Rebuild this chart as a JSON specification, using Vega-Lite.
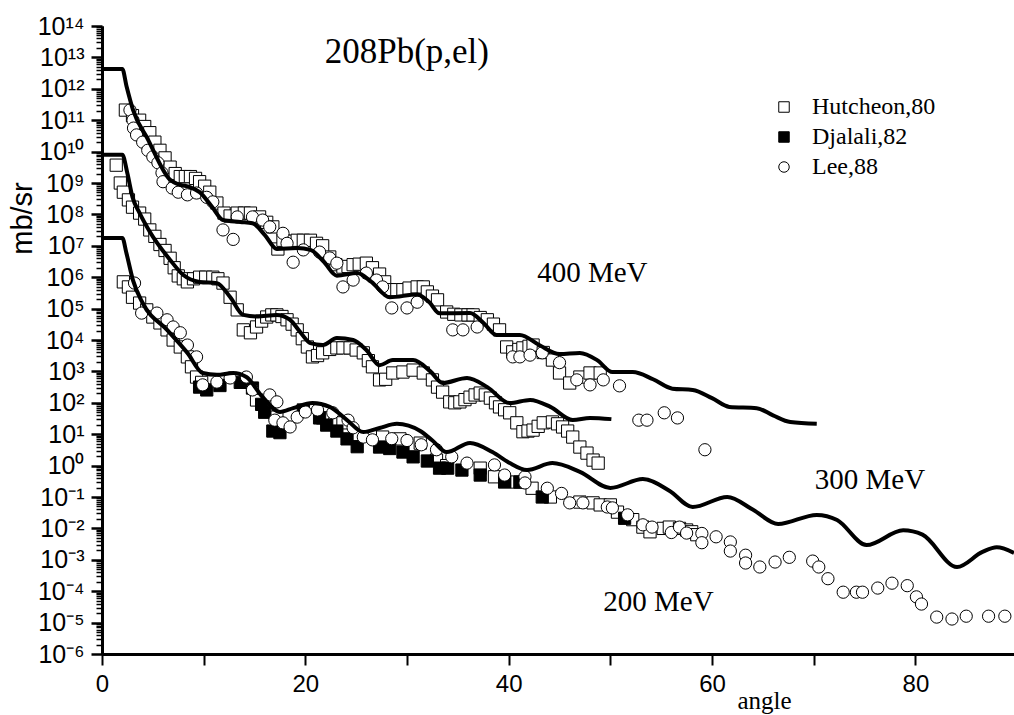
{
  "$schema": "https://vega.github.io/schema/vega-lite/v6.json",
  "width": 912,
  "height": 628,
  "autosize": {"type": "none"},
  "padding": {"left": 102, "top": 26, "right": 0, "bottom": 61},
  "background": "white",
  "config": {"view": {"stroke": null}},
  "resolve": {"axis": {"y": "independent"}},
  "datasets": {
    "curves": [
      {"c": "400", "a": 0, "v": 4.27e12}, {"c": "400", "a": 2.0, "v": 4.27e12}, {"c": "400", "a": 2.4, "v": 1.26e12}, {"c": "400", "a": 3.05, "v": 2.14e11}, {"c": "400", "a": 4.5, "v": 2.51e10}, {"c": "400", "a": 6.7, "v": 1.26e9}, {"c": "400", "a": 7.6, "v": 8.91e8}, {"c": "400", "a": 8.65, "v": 7.41e8}, {"c": "400", "a": 9.6, "v": 5.13e8}, {"c": "400", "a": 10.8, "v": 1.78e8}, {"c": "400", "a": 11.9, "v": 6.61e7}, {"c": "400", "a": 13.6, "v": 5.75e7}, {"c": "400", "a": 14.8, "v": 5.25e7}, {"c": "400", "a": 16.0, "v": 2.24e7}, {"c": "400", "a": 17.2, "v": 7.94e6}, {"c": "400", "a": 19.2, "v": 8.51e6}, {"c": "400", "a": 20.5, "v": 7.41e6}, {"c": "400", "a": 21.8, "v": 3.16e6}, {"c": "400", "a": 23.1, "v": 1.12e6}, {"c": "400", "a": 25.1, "v": 1.35e6}, {"c": "400", "a": 26.5, "v": 7.08e5}, {"c": "400", "a": 28.3, "v": 2.29e5}, {"c": "400", "a": 31.0, "v": 2.82e5}, {"c": "400", "a": 32.2, "v": 1.58e5}, {"c": "400", "a": 33.2, "v": 7.08e4}, {"c": "400", "a": 36.2, "v": 7.24e4}, {"c": "400", "a": 37.5, "v": 3.55e4}, {"c": "400", "a": 38.8, "v": 1.45e4}, {"c": "400", "a": 41.1, "v": 1.45e4}, {"c": "400", "a": 43.0, "v": 6.92e3}, {"c": "400", "a": 45.0, "v": 3.55e3}, {"c": "400", "a": 47.0, "v": 3.89e3}, {"c": "400", "a": 48.7, "v": 2.29e3}, {"c": "400", "a": 50.2, "v": 955}, {"c": "400", "a": 52.2, "v": 955}, {"c": "400", "a": 54.2, "v": 562}, {"c": "400", "a": 56.1, "v": 282}, {"c": "400", "a": 58.1, "v": 257}, {"c": "400", "a": 60.0, "v": 141}, {"c": "400", "a": 61.7, "v": 74.1}, {"c": "400", "a": 64.4, "v": 67.6}, {"c": "400", "a": 66.0, "v": 39.8}, {"c": "400", "a": 67.7, "v": 24.5}, {"c": "400", "a": 70.3, "v": 21.4},
      {"c": "300", "a": 0, "v": 7.94e9}, {"c": "300", "a": 2.0, "v": 7.94e9}, {"c": "300", "a": 2.5, "v": 2.0e9}, {"c": "300", "a": 3.0, "v": 3.55e8}, {"c": "300", "a": 3.7, "v": 1.1e8}, {"c": "300", "a": 4.7, "v": 2.82e7}, {"c": "300", "a": 6.7, "v": 3.55e6}, {"c": "300", "a": 8.0, "v": 1.17e6}, {"c": "300", "a": 9.6, "v": 7.08e5}, {"c": "300", "a": 11.3, "v": 6.46e5}, {"c": "300", "a": 12.6, "v": 2.34e5}, {"c": "300", "a": 13.9, "v": 6.31e4}, {"c": "300", "a": 15.2, "v": 5.62e4}, {"c": "300", "a": 17.2, "v": 6.31e4}, {"c": "300", "a": 18.5, "v": 4.37e4}, {"c": "300", "a": 19.5, "v": 1.78e4}, {"c": "300", "a": 20.5, "v": 7.94e3}, {"c": "300", "a": 21.7, "v": 6.92e3}, {"c": "300", "a": 23.1, "v": 1.15e4}, {"c": "300", "a": 24.7, "v": 1.0e4}, {"c": "300", "a": 26.0, "v": 4.79e3}, {"c": "300", "a": 27.3, "v": 1.58e3}, {"c": "300", "a": 28.6, "v": 2.29e3}, {"c": "300", "a": 30.6, "v": 2.29e3}, {"c": "300", "a": 32.3, "v": 1.0e3}, {"c": "300", "a": 33.5, "v": 427}, {"c": "300", "a": 35.9, "v": 617}, {"c": "300", "a": 37.9, "v": 316}, {"c": "300", "a": 40.1, "v": 97.7}, {"c": "300", "a": 42.1, "v": 123}, {"c": "300", "a": 44.1, "v": 74.1}, {"c": "300", "a": 46.3, "v": 28.2}, {"c": "300", "a": 48.0, "v": 33.1}, {"c": "300", "a": 50.1, "v": 30.2},
      {"c": "200", "a": 0, "v": 1.78e7}, {"c": "200", "a": 2.0, "v": 1.78e7}, {"c": "200", "a": 2.4, "v": 5.89e6}, {"c": "200", "a": 3.05, "v": 7.94e5}, {"c": "200", "a": 4.0, "v": 1.51e5}, {"c": "200", "a": 6.4, "v": 2.09e4}, {"c": "200", "a": 8.4, "v": 3.89e3}, {"c": "200", "a": 9.9, "v": 891}, {"c": "200", "a": 11.3, "v": 776}, {"c": "200", "a": 12.9, "v": 891}, {"c": "200", "a": 14.2, "v": 661}, {"c": "200", "a": 15.8, "v": 151}, {"c": "200", "a": 17.5, "v": 51.3}, {"c": "200", "a": 18.8, "v": 67.6}, {"c": "200", "a": 20.7, "v": 97.7}, {"c": "200", "a": 22.4, "v": 74.1}, {"c": "200", "a": 24.1, "v": 28.2}, {"c": "200", "a": 25.7, "v": 11.7}, {"c": "200", "a": 27.3, "v": 15.8}, {"c": "200", "a": 29.0, "v": 21.4}, {"c": "200", "a": 31.3, "v": 12.6}, {"c": "200", "a": 32.5, "v": 6.31}, {"c": "200", "a": 33.9, "v": 2.69}, {"c": "200", "a": 36.2, "v": 5.25}, {"c": "200", "a": 38.4, "v": 2.69}, {"c": "200", "a": 40.0, "v": 1.26}, {"c": "200", "a": 41.8, "v": 0.724}, {"c": "200", "a": 44.3, "v": 1.2}, {"c": "200", "a": 47.0, "v": 0.631}, {"c": "200", "a": 50.0, "v": 0.195}, {"c": "200", "a": 53.2, "v": 0.372}, {"c": "200", "a": 55.8, "v": 0.158}, {"c": "200", "a": 58.1, "v": 0.0479}, {"c": "200", "a": 61.5, "v": 0.1}, {"c": "200", "a": 64.0, "v": 0.0398}, {"c": "200", "a": 66.5, "v": 0.0138}, {"c": "200", "a": 70.3, "v": 0.0269}, {"c": "200", "a": 72.3, "v": 0.0186}, {"c": "200", "a": 75.2, "v": 0.00295}, {"c": "200", "a": 78.8, "v": 0.00871}, {"c": "200", "a": 80.7, "v": 0.00631}, {"c": "200", "a": 84.1, "v": 0.000589}, {"c": "200", "a": 86.6, "v": 0.00178}, {"c": "200", "a": 88.0, "v": 0.00251}, {"c": "200", "a": 89.7, "v": 0.00166}
    ],
    "points": [
      {"s": "Hutcheon,80", "a": 2.3, "v": 2.1e11}, {"s": "Hutcheon,80", "a": 3.0, "v": 1.4e11}, {"s": "Hutcheon,80", "a": 3.7, "v": 1e11}, {"s": "Hutcheon,80", "a": 4.2, "v": 6.3e10}, {"s": "Hutcheon,80", "a": 4.7, "v": 4e10}, {"s": "Hutcheon,80", "a": 5.2, "v": 2e10}, {"s": "Hutcheon,80", "a": 5.7, "v": 1.1e10}, {"s": "Hutcheon,80", "a": 6.2, "v": 6.3e9}, {"s": "Hutcheon,80", "a": 6.7, "v": 3.2e9}, {"s": "Hutcheon,80", "a": 7.2, "v": 2e9}, {"s": "Hutcheon,80", "a": 7.7, "v": 1.6e9}, {"s": "Hutcheon,80", "a": 8.2, "v": 1.6e9}, {"s": "Hutcheon,80", "a": 8.7, "v": 1.6e9}, {"s": "Hutcheon,80", "a": 9.2, "v": 1.4e9}, {"s": "Hutcheon,80", "a": 9.6, "v": 1.1e9}, {"s": "Hutcheon,80", "a": 10.1, "v": 7.9e8}, {"s": "Hutcheon,80", "a": 10.6, "v": 5.1e8}, {"s": "Hutcheon,80", "a": 11.3, "v": 2.3e8}, {"s": "Hutcheon,80", "a": 12.0, "v": 1.1e8}, {"s": "Hutcheon,80", "a": 12.6, "v": 8.9e7}, {"s": "Hutcheon,80", "a": 13.3, "v": 1.1e8}, {"s": "Hutcheon,80", "a": 14.0, "v": 1.1e8}, {"s": "Hutcheon,80", "a": 14.6, "v": 1.1e8}, {"s": "Hutcheon,80", "a": 15.5, "v": 8.3e7}, {"s": "Hutcheon,80", "a": 16.2, "v": 5.6e7}, {"s": "Hutcheon,80", "a": 16.8, "v": 4e7}, {"s": "Hutcheon,80", "a": 17.3, "v": 7.9e6}, {"s": "Hutcheon,80", "a": 17.8, "v": 1.5e7}, {"s": "Hutcheon,80", "a": 18.5, "v": 1.4e7}, {"s": "Hutcheon,80", "a": 19.2, "v": 1.5e7}, {"s": "Hutcheon,80", "a": 19.8, "v": 1.5e7}, {"s": "Hutcheon,80", "a": 20.5, "v": 1.5e7}, {"s": "Hutcheon,80", "a": 21.1, "v": 1.2e7}, {"s": "Hutcheon,80", "a": 21.7, "v": 1e7}, {"s": "Hutcheon,80", "a": 22.4, "v": 4.4e6}, {"s": "Hutcheon,80", "a": 23.0, "v": 2.5e6}, {"s": "Hutcheon,80", "a": 23.7, "v": 2.1e6}, {"s": "Hutcheon,80", "a": 24.2, "v": 2.2e6}, {"s": "Hutcheon,80", "a": 24.7, "v": 2.5e6}, {"s": "Hutcheon,80", "a": 25.3, "v": 2.6e6}, {"s": "Hutcheon,80", "a": 26.0, "v": 2.8e6}, {"s": "Hutcheon,80", "a": 26.6, "v": 2e6}, {"s": "Hutcheon,80", "a": 27.3, "v": 1.26e6}, {"s": "Hutcheon,80", "a": 27.8, "v": 7.1e5}, {"s": "Hutcheon,80", "a": 28.3, "v": 4e5}, {"s": "Hutcheon,80", "a": 29.0, "v": 4e5}, {"s": "Hutcheon,80", "a": 29.6, "v": 4e5}, {"s": "Hutcheon,80", "a": 30.2, "v": 4.5e5}, {"s": "Hutcheon,80", "a": 31.0, "v": 4.9e5}, {"s": "Hutcheon,80", "a": 31.6, "v": 4.9e5}, {"s": "Hutcheon,80", "a": 32.0, "v": 3.4e5}, {"s": "Hutcheon,80", "a": 32.5, "v": 2.5e5}, {"s": "Hutcheon,80", "a": 33.0, "v": 1.9e5}, {"s": "Hutcheon,80", "a": 33.9, "v": 7.8e4}, {"s": "Hutcheon,80", "a": 34.6, "v": 6.6e4}, {"s": "Hutcheon,80", "a": 35.3, "v": 6.3e4}, {"s": "Hutcheon,80", "a": 36.0, "v": 6.3e4}, {"s": "Hutcheon,80", "a": 36.5, "v": 6.3e4}, {"s": "Hutcheon,80", "a": 37.2, "v": 5.2e4}, {"s": "Hutcheon,80", "a": 37.9, "v": 4.4e4}, {"s": "Hutcheon,80", "a": 38.5, "v": 3.2e4}, {"s": "Hutcheon,80", "a": 39.1, "v": 2.1e4}, {"s": "Hutcheon,80", "a": 39.8, "v": 6e3}, {"s": "Hutcheon,80", "a": 40.4, "v": 4.2e3}, {"s": "Hutcheon,80", "a": 41.0, "v": 5e3}, {"s": "Hutcheon,80", "a": 41.4, "v": 5.6e3}, {"s": "Hutcheon,80", "a": 42.0, "v": 6.3e3}, {"s": "Hutcheon,80", "a": 42.4, "v": 6.9e3}, {"s": "Hutcheon,80", "a": 43.4, "v": 4e3}, {"s": "Hutcheon,80", "a": 44.3, "v": 2.3e3}, {"s": "Hutcheon,80", "a": 45.0, "v": 891}, {"s": "Hutcheon,80", "a": 46.0, "v": 427}, {"s": "Hutcheon,80", "a": 47.0, "v": 661}, {"s": "Hutcheon,80", "a": 48.0, "v": 891}, {"s": "Hutcheon,80", "a": 49.0, "v": 891},
      {"s": "Hutcheon,80", "a": 1.4, "v": 3.7e9}, {"s": "Hutcheon,80", "a": 1.8, "v": 1e9}, {"s": "Hutcheon,80", "a": 2.1, "v": 5.1e8}, {"s": "Hutcheon,80", "a": 2.6, "v": 2.9e8}, {"s": "Hutcheon,80", "a": 3.0, "v": 1.7e8}, {"s": "Hutcheon,80", "a": 3.7, "v": 1.1e8}, {"s": "Hutcheon,80", "a": 4.2, "v": 7.1e7}, {"s": "Hutcheon,80", "a": 4.7, "v": 3.2e7}, {"s": "Hutcheon,80", "a": 5.2, "v": 2e7}, {"s": "Hutcheon,80", "a": 5.7, "v": 1.1e7}, {"s": "Hutcheon,80", "a": 6.2, "v": 7.1e6}, {"s": "Hutcheon,80", "a": 6.7, "v": 4e6}, {"s": "Hutcheon,80", "a": 7.1, "v": 2e6}, {"s": "Hutcheon,80", "a": 7.5, "v": 1.1e6}, {"s": "Hutcheon,80", "a": 8.0, "v": 8.9e5}, {"s": "Hutcheon,80", "a": 8.4, "v": 7.1e5}, {"s": "Hutcheon,80", "a": 9.0, "v": 8.9e5}, {"s": "Hutcheon,80", "a": 9.6, "v": 1e6}, {"s": "Hutcheon,80", "a": 10.2, "v": 1e6}, {"s": "Hutcheon,80", "a": 10.9, "v": 1e6}, {"s": "Hutcheon,80", "a": 11.4, "v": 8.9e5}, {"s": "Hutcheon,80", "a": 11.9, "v": 6.5e5}, {"s": "Hutcheon,80", "a": 12.6, "v": 2.3e5}, {"s": "Hutcheon,80", "a": 13.3, "v": 9.1e4}, {"s": "Hutcheon,80", "a": 13.9, "v": 2.1e4}, {"s": "Hutcheon,80", "a": 14.6, "v": 1.7e4}, {"s": "Hutcheon,80", "a": 15.2, "v": 2.6e4}, {"s": "Hutcheon,80", "a": 15.7, "v": 4e4}, {"s": "Hutcheon,80", "a": 16.2, "v": 5.4e4}, {"s": "Hutcheon,80", "a": 16.7, "v": 6.3e4}, {"s": "Hutcheon,80", "a": 17.2, "v": 6.3e4}, {"s": "Hutcheon,80", "a": 17.7, "v": 5.6e4}, {"s": "Hutcheon,80", "a": 18.2, "v": 4.4e4}, {"s": "Hutcheon,80", "a": 18.7, "v": 3.2e4}, {"s": "Hutcheon,80", "a": 19.2, "v": 2.1e4}, {"s": "Hutcheon,80", "a": 19.7, "v": 1.1e4}, {"s": "Hutcheon,80", "a": 20.2, "v": 6e3}, {"s": "Hutcheon,80", "a": 20.7, "v": 2.9e3}, {"s": "Hutcheon,80", "a": 21.2, "v": 3.2e3}, {"s": "Hutcheon,80", "a": 21.7, "v": 3.9e3}, {"s": "Hutcheon,80", "a": 22.4, "v": 5e3}, {"s": "Hutcheon,80", "a": 23.1, "v": 5.6e3}, {"s": "Hutcheon,80", "a": 23.7, "v": 5.6e3}, {"s": "Hutcheon,80", "a": 24.4, "v": 5.6e3}, {"s": "Hutcheon,80", "a": 25.0, "v": 4.8e3}, {"s": "Hutcheon,80", "a": 25.7, "v": 3.9e3}, {"s": "Hutcheon,80", "a": 26.2, "v": 2.2e3}, {"s": "Hutcheon,80", "a": 26.6, "v": 1.4e3}, {"s": "Hutcheon,80", "a": 27.3, "v": 537}, {"s": "Hutcheon,80", "a": 27.9, "v": 562}, {"s": "Hutcheon,80", "a": 28.6, "v": 891}, {"s": "Hutcheon,80", "a": 29.6, "v": 955}, {"s": "Hutcheon,80", "a": 30.6, "v": 1100}, {"s": "Hutcheon,80", "a": 31.6, "v": 891}, {"s": "Hutcheon,80", "a": 32.5, "v": 537}, {"s": "Hutcheon,80", "a": 33.0, "v": 316}, {"s": "Hutcheon,80", "a": 33.5, "v": 219}, {"s": "Hutcheon,80", "a": 34.2, "v": 107}, {"s": "Hutcheon,80", "a": 34.7, "v": 100}, {"s": "Hutcheon,80", "a": 35.2, "v": 107}, {"s": "Hutcheon,80", "a": 35.7, "v": 126}, {"s": "Hutcheon,80", "a": 36.2, "v": 151}, {"s": "Hutcheon,80", "a": 36.7, "v": 178}, {"s": "Hutcheon,80", "a": 37.2, "v": 204}, {"s": "Hutcheon,80", "a": 37.7, "v": 178}, {"s": "Hutcheon,80", "a": 38.2, "v": 141}, {"s": "Hutcheon,80", "a": 38.7, "v": 100}, {"s": "Hutcheon,80", "a": 39.1, "v": 74}, {"s": "Hutcheon,80", "a": 39.6, "v": 60}, {"s": "Hutcheon,80", "a": 40.1, "v": 48}, {"s": "Hutcheon,80", "a": 40.8, "v": 23}, {"s": "Hutcheon,80", "a": 41.4, "v": 12}, {"s": "Hutcheon,80", "a": 41.9, "v": 12.6}, {"s": "Hutcheon,80", "a": 42.4, "v": 13.5}, {"s": "Hutcheon,80", "a": 42.9, "v": 17.8}, {"s": "Hutcheon,80", "a": 43.4, "v": 23}, {"s": "Hutcheon,80", "a": 44.3, "v": 24.5}, {"s": "Hutcheon,80", "a": 44.8, "v": 21.4}, {"s": "Hutcheon,80", "a": 45.3, "v": 17}, {"s": "Hutcheon,80", "a": 45.8, "v": 12.6}, {"s": "Hutcheon,80", "a": 46.3, "v": 8.1}, {"s": "Hutcheon,80", "a": 47.0, "v": 3.9}, {"s": "Hutcheon,80", "a": 47.7, "v": 2.5}, {"s": "Hutcheon,80", "a": 48.3, "v": 1.5}, {"s": "Hutcheon,80", "a": 48.8, "v": 1.2},
      {"s": "Hutcheon,80", "a": 2.1, "v": 7.1e5}, {"s": "Hutcheon,80", "a": 2.6, "v": 4.9e5}, {"s": "Hutcheon,80", "a": 3.0, "v": 2.3e5}, {"s": "Hutcheon,80", "a": 3.7, "v": 1.5e5}, {"s": "Hutcheon,80", "a": 4.4, "v": 9.1e4}, {"s": "Hutcheon,80", "a": 5.0, "v": 5.4e4}, {"s": "Hutcheon,80", "a": 5.7, "v": 3.5e4}, {"s": "Hutcheon,80", "a": 6.4, "v": 2.1e4}, {"s": "Hutcheon,80", "a": 7.0, "v": 1e4}, {"s": "Hutcheon,80", "a": 7.7, "v": 6e3}, {"s": "Hutcheon,80", "a": 8.4, "v": 2.9e3}, {"s": "Hutcheon,80", "a": 8.8, "v": 1.4e3}, {"s": "Hutcheon,80", "a": 9.3, "v": 661}, {"s": "Hutcheon,80", "a": 9.8, "v": 447}, {"s": "Hutcheon,80", "a": 15.2, "v": 123}, {"s": "Hutcheon,80", "a": 16.2, "v": 74}, {"s": "Hutcheon,80", "a": 17.2, "v": 35}, {"s": "Hutcheon,80", "a": 21.7, "v": 33}, {"s": "Hutcheon,80", "a": 23.7, "v": 23}, {"s": "Hutcheon,80", "a": 25.1, "v": 8.1}, {"s": "Hutcheon,80", "a": 27.6, "v": 8.1}, {"s": "Hutcheon,80", "a": 29.3, "v": 7.1}, {"s": "Hutcheon,80", "a": 31.3, "v": 5.2}, {"s": "Hutcheon,80", "a": 32.9, "v": 1.5}, {"s": "Hutcheon,80", "a": 33.9, "v": 1.0}, {"s": "Hutcheon,80", "a": 37.2, "v": 0.83}, {"s": "Hutcheon,80", "a": 38.6, "v": 0.44}, {"s": "Hutcheon,80", "a": 40.8, "v": 0.3}, {"s": "Hutcheon,80", "a": 42.3, "v": 0.19}, {"s": "Hutcheon,80", "a": 44.1, "v": 0.1}, {"s": "Hutcheon,80", "a": 47.0, "v": 0.069}, {"s": "Hutcheon,80", "a": 48.3, "v": 0.065}, {"s": "Hutcheon,80", "a": 49.0, "v": 0.056}, {"s": "Hutcheon,80", "a": 50.0, "v": 0.056}, {"s": "Hutcheon,80", "a": 50.7, "v": 0.033}, {"s": "Hutcheon,80", "a": 52.2, "v": 0.019}, {"s": "Hutcheon,80", "a": 53.2, "v": 0.011}, {"s": "Hutcheon,80", "a": 53.9, "v": 0.0078}, {"s": "Hutcheon,80", "a": 55.2, "v": 0.010}, {"s": "Hutcheon,80", "a": 55.8, "v": 0.011}, {"s": "Hutcheon,80", "a": 56.8, "v": 0.010}, {"s": "Hutcheon,80", "a": 57.5, "v": 0.0089}, {"s": "Hutcheon,80", "a": 58.0, "v": 0.0078}, {"s": "Hutcheon,80", "a": 58.5, "v": 0.0063},
      {"s": "Djalali,82", "a": 9.6, "v": 316}, {"s": "Djalali,82", "a": 10.3, "v": 257}, {"s": "Djalali,82", "a": 11.6, "v": 355}, {"s": "Djalali,82", "a": 13.6, "v": 447}, {"s": "Djalali,82", "a": 14.8, "v": 295}, {"s": "Djalali,82", "a": 15.7, "v": 89}, {"s": "Djalali,82", "a": 16.0, "v": 50}, {"s": "Djalali,82", "a": 16.8, "v": 12.6}, {"s": "Djalali,82", "a": 17.5, "v": 11.2}, {"s": "Djalali,82", "a": 19.8, "v": 59}, {"s": "Djalali,82", "a": 21.4, "v": 33}, {"s": "Djalali,82", "a": 22.1, "v": 19.5}, {"s": "Djalali,82", "a": 23.1, "v": 12.6}, {"s": "Djalali,82", "a": 24.1, "v": 7.1}, {"s": "Djalali,82", "a": 25.1, "v": 4.0}, {"s": "Djalali,82", "a": 27.3, "v": 3.9}, {"s": "Djalali,82", "a": 28.3, "v": 3.5}, {"s": "Djalali,82", "a": 29.6, "v": 2.7}, {"s": "Djalali,82", "a": 30.6, "v": 1.9}, {"s": "Djalali,82", "a": 32.0, "v": 1.4}, {"s": "Djalali,82", "a": 33.2, "v": 0.83}, {"s": "Djalali,82", "a": 34.0, "v": 0.83}, {"s": "Djalali,82", "a": 35.4, "v": 0.72}, {"s": "Djalali,82", "a": 37.2, "v": 0.5}, {"s": "Djalali,82", "a": 39.6, "v": 0.3}, {"s": "Djalali,82", "a": 41.1, "v": 0.3}, {"s": "Djalali,82", "a": 43.3, "v": 0.1}, {"s": "Djalali,82", "a": 51.4, "v": 0.021},
      {"s": "Lee,88", "a": 2.75, "v": 2.1e11}, {"s": "Lee,88", "a": 3.05, "v": 1e11}, {"s": "Lee,88", "a": 3.1, "v": 5.6e10}, {"s": "Lee,88", "a": 3.4, "v": 3.4e10}, {"s": "Lee,88", "a": 4.0, "v": 2e10}, {"s": "Lee,88", "a": 4.5, "v": 1.1e10}, {"s": "Lee,88", "a": 5.0, "v": 6.8e9}, {"s": "Lee,88", "a": 5.5, "v": 4.4e9}, {"s": "Lee,88", "a": 5.9, "v": 2.1e9}, {"s": "Lee,88", "a": 6.0, "v": 1.1e9}, {"s": "Lee,88", "a": 6.9, "v": 6.9e8}, {"s": "Lee,88", "a": 7.5, "v": 5.1e8}, {"s": "Lee,88", "a": 8.4, "v": 4.2e8}, {"s": "Lee,88", "a": 9.3, "v": 4.8e8}, {"s": "Lee,88", "a": 10.3, "v": 3.5e8}, {"s": "Lee,88", "a": 10.9, "v": 2.5e8}, {"s": "Lee,88", "a": 11.9, "v": 3.2e7}, {"s": "Lee,88", "a": 12.9, "v": 1.6e7}, {"s": "Lee,88", "a": 13.3, "v": 8.3e7}, {"s": "Lee,88", "a": 14.8, "v": 8.3e7}, {"s": "Lee,88", "a": 15.8, "v": 6.6e7}, {"s": "Lee,88", "a": 16.5, "v": 4e7}, {"s": "Lee,88", "a": 17.8, "v": 2.5e7}, {"s": "Lee,88", "a": 18.2, "v": 1.2e7}, {"s": "Lee,88", "a": 18.8, "v": 3e6}, {"s": "Lee,88", "a": 19.8, "v": 7.4e6}, {"s": "Lee,88", "a": 21.4, "v": 6.3e6}, {"s": "Lee,88", "a": 22.4, "v": 4.1e6}, {"s": "Lee,88", "a": 23.1, "v": 2.8e6}, {"s": "Lee,88", "a": 23.7, "v": 4.9e5}, {"s": "Lee,88", "a": 24.7, "v": 8.1e5}, {"s": "Lee,88", "a": 26.0, "v": 1.35e6}, {"s": "Lee,88", "a": 27.0, "v": 8.1e5}, {"s": "Lee,88", "a": 27.6, "v": 4.9e5}, {"s": "Lee,88", "a": 28.5, "v": 1.05e5}, {"s": "Lee,88", "a": 30.0, "v": 1.05e5}, {"s": "Lee,88", "a": 31.0, "v": 1.6e5}, {"s": "Lee,88", "a": 34.5, "v": 2.1e4}, {"s": "Lee,88", "a": 35.5, "v": 2.1e4}, {"s": "Lee,88", "a": 36.9, "v": 2.6e4}, {"s": "Lee,88", "a": 40.4, "v": 2.9e3}, {"s": "Lee,88", "a": 41.1, "v": 2.9e3}, {"s": "Lee,88", "a": 42.1, "v": 3.3e3}, {"s": "Lee,88", "a": 43.3, "v": 3.9e3}, {"s": "Lee,88", "a": 45.0, "v": 1.9e3}, {"s": "Lee,88", "a": 46.7, "v": 537}, {"s": "Lee,88", "a": 48.0, "v": 372}, {"s": "Lee,88", "a": 49.3, "v": 537}, {"s": "Lee,88", "a": 50.9, "v": 347}, {"s": "Lee,88", "a": 52.8, "v": 28}, {"s": "Lee,88", "a": 53.6, "v": 28}, {"s": "Lee,88", "a": 55.3, "v": 48}, {"s": "Lee,88", "a": 56.6, "v": 33}, {"s": "Lee,88", "a": 59.3, "v": 3.2},
      {"s": "Lee,88", "a": 3.2, "v": 6.5e5}, {"s": "Lee,88", "a": 3.9, "v": 7.2e4}, {"s": "Lee,88", "a": 5.4, "v": 7.2e4}, {"s": "Lee,88", "a": 6.4, "v": 4.4e4}, {"s": "Lee,88", "a": 7.0, "v": 2.6e4}, {"s": "Lee,88", "a": 7.7, "v": 1.7e4}, {"s": "Lee,88", "a": 8.4, "v": 6.9e3}, {"s": "Lee,88", "a": 9.3, "v": 2.9e3}, {"s": "Lee,88", "a": 9.9, "v": 372}, {"s": "Lee,88", "a": 11.3, "v": 457}, {"s": "Lee,88", "a": 12.6, "v": 617}, {"s": "Lee,88", "a": 14.2, "v": 661}, {"s": "Lee,88", "a": 14.8, "v": 257}, {"s": "Lee,88", "a": 16.5, "v": 178}, {"s": "Lee,88", "a": 17.2, "v": 107}, {"s": "Lee,88", "a": 17.0, "v": 28}, {"s": "Lee,88", "a": 17.8, "v": 23}, {"s": "Lee,88", "a": 18.5, "v": 17}, {"s": "Lee,88", "a": 19.2, "v": 35}, {"s": "Lee,88", "a": 20.0, "v": 51}, {"s": "Lee,88", "a": 21.2, "v": 59}, {"s": "Lee,88", "a": 22.7, "v": 48}, {"s": "Lee,88", "a": 24.2, "v": 28}, {"s": "Lee,88", "a": 24.7, "v": 16}, {"s": "Lee,88", "a": 25.7, "v": 8.1}, {"s": "Lee,88", "a": 26.6, "v": 6.6}, {"s": "Lee,88", "a": 28.5, "v": 7.2}, {"s": "Lee,88", "a": 30.0, "v": 6.3}, {"s": "Lee,88", "a": 31.4, "v": 4.6}, {"s": "Lee,88", "a": 32.9, "v": 3.2}, {"s": "Lee,88", "a": 34.4, "v": 1.9}, {"s": "Lee,88", "a": 35.9, "v": 1.2}, {"s": "Lee,88", "a": 38.6, "v": 1.05}, {"s": "Lee,88", "a": 39.6, "v": 0.5}, {"s": "Lee,88", "a": 41.6, "v": 0.44}, {"s": "Lee,88", "a": 41.6, "v": 0.28}, {"s": "Lee,88", "a": 43.8, "v": 0.19}, {"s": "Lee,88", "a": 45.2, "v": 0.13}, {"s": "Lee,88", "a": 46.0, "v": 0.065}, {"s": "Lee,88", "a": 47.3, "v": 0.065}, {"s": "Lee,88", "a": 49.7, "v": 0.048}, {"s": "Lee,88", "a": 50.2, "v": 0.045}, {"s": "Lee,88", "a": 51.7, "v": 0.027}, {"s": "Lee,88", "a": 53.2, "v": 0.013}, {"s": "Lee,88", "a": 54.1, "v": 0.011}, {"s": "Lee,88", "a": 56.0, "v": 0.0074}, {"s": "Lee,88", "a": 56.8, "v": 0.011}, {"s": "Lee,88", "a": 57.5, "v": 0.0071}, {"s": "Lee,88", "a": 59.0, "v": 0.0069}, {"s": "Lee,88", "a": 59.0, "v": 0.0035}, {"s": "Lee,88", "a": 60.4, "v": 0.0054}, {"s": "Lee,88", "a": 61.8, "v": 0.0037}, {"s": "Lee,88", "a": 61.8, "v": 0.0019}, {"s": "Lee,88", "a": 63.3, "v": 0.0014}, {"s": "Lee,88", "a": 63.3, "v": 0.00079}, {"s": "Lee,88", "a": 64.7, "v": 0.00059}, {"s": "Lee,88", "a": 66.2, "v": 0.00085}, {"s": "Lee,88", "a": 67.6, "v": 0.0012}, {"s": "Lee,88", "a": 69.9, "v": 0.00091}, {"s": "Lee,88", "a": 70.5, "v": 0.00059}, {"s": "Lee,88", "a": 71.4, "v": 0.00025}, {"s": "Lee,88", "a": 72.9, "v": 0.000093}, {"s": "Lee,88", "a": 74.2, "v": 0.000093}, {"s": "Lee,88", "a": 74.8, "v": 0.000093}, {"s": "Lee,88", "a": 76.3, "v": 0.000126}, {"s": "Lee,88", "a": 77.7, "v": 0.00018}, {"s": "Lee,88", "a": 79.2, "v": 0.00015}, {"s": "Lee,88", "a": 80.1, "v": 0.000066}, {"s": "Lee,88", "a": 80.6, "v": 0.000039}, {"s": "Lee,88", "a": 82.1, "v": 0.000015}, {"s": "Lee,88", "a": 83.6, "v": 0.000013}, {"s": "Lee,88", "a": 85.0, "v": 0.000016}, {"s": "Lee,88", "a": 87.2, "v": 0.000016}, {"s": "Lee,88", "a": 88.8, "v": 0.000016}
    ],
    "title": [
      {"t": "208Pb(p,el)", "a": 21.9, "v": 6.6e12}
    ],
    "labels": [
      {"t": "400 MeV", "a": 42.8, "v": 7.1e5},
      {"t": "300 MeV", "a": 70.1, "v": 0.18},
      {"t": "200 MeV", "a": 49.3, "v": 2.3e-5}
    ]
  },
  "encoding": {
    "x": {
      "field": "a", "type": "quantitative",
      "scale": {"domain": [0, 89.7], "nice": false, "zero": false},
      "axis": {
        "title": "angle",
        "values": [0, 10, 20, 30, 40, 50, 60, 70, 80],
        "labelExpr": "datum.value % 20 == 0 ? datum.label : ''",
        "grid": false,
        "domainColor": "black", "domainWidth": 3,
        "tickColor": "black", "tickWidth": 2, "tickSize": 11,
        "labelFont": "Liberation Sans", "labelFontSize": 24, "labelColor": "black", "labelPadding": 7,
        "labelOverlap": false, "labelFlush": false,
        "titleFont": "Liberation Serif", "titleFontSize": 25, "titleFontWeight": "normal", "titleColor": "black",
        "titleX": 662, "titleY": 54, "titleAlign": "center", "titleBaseline": "alphabetic", "titleAnchor": null
      }
    },
    "y": {
      "field": "v", "type": "quantitative",
      "scale": {"type": "log", "domain": [1e-6, 1e14], "nice": false},
      "axis": null
    }
  },
  "layer": [
    {
      "data": {"name": "points"},
      "mark": {"type": "point", "filled": true, "strokeWidth": 1, "size": 150, "opacity": 1},
      "encoding": {
        "y": {
          "field": "v", "type": "quantitative",
          "scale": {"type": "log", "domain": [1e-6, 1e14], "nice": false},
          "axis": {
            "orient": "left",
            "title": "mb/sr",
            "values": [1e-6, 1e-5, 1e-4, 1e-3, 1e-2, 1e-1, 1, 1e1, 1e2, 1e3, 1e4, 1e5, 1e6, 1e7, 1e8, 1e9, 1e10, 1e11, 1e12, 1e13, 1e14],
            "labelExpr": "['10⁻⁶','10⁻⁵','10⁻⁴','10⁻³','10⁻²','10⁻¹','10⁰','10¹','10²','10³','10⁴','10⁵','10⁶','10⁷','10⁸','10⁹','10¹⁰','10¹¹','10¹²','10¹³','10¹⁴'][round(log(datum.value)/LN10)+6]",
            "grid": false,
            "domainColor": "black", "domainWidth": 3,
            "tickColor": "black", "tickSize": 11, "tickWidth": 2.5,
            "labelFont": "Liberation Sans", "labelFontSize": 25, "labelColor": "black", "labelPadding": 7,
            "labelOverlap": false, "labelFlush": false, "labelBound": false,
            "titleFont": "Liberation Sans", "titleFontSize": 29, "titleFontWeight": "normal", "titleColor": "black",
            "titleAngle": 270, "titleX": -80, "titleY": 192, "titleAlign": "center", "titleBaseline": "middle", "titleAnchor": null
          }
        },
        "fill": {
          "field": "s", "type": "nominal",
          "scale": {"domain": ["Hutcheon,80", "Djalali,82", "Lee,88"], "range": ["white", "black", "white"]},
          "legend": {
            "orient": "none", "legendX": 670, "legendY": 69, "title": null,
            "labelFont": "Liberation Serif", "labelFontSize": 24, "labelColor": "black",
            "symbolSize": 110, "symbolStrokeWidth": 1,
            "rowPadding": 6, "labelOffset": 16, "padding": 0
          }
        },
        "stroke": {
          "field": "s", "type": "nominal",
          "scale": {"domain": ["Hutcheon,80", "Djalali,82", "Lee,88"], "range": ["black", "black", "black"]},
          "legend": {
            "orient": "none", "legendX": 670, "legendY": 69, "title": null,
            "labelFont": "Liberation Serif", "labelFontSize": 24, "labelColor": "black",
            "symbolSize": 110, "symbolStrokeWidth": 1,
            "rowPadding": 6, "labelOffset": 16, "padding": 0
          }
        },
        "shape": {
          "field": "s", "type": "nominal",
          "scale": {"domain": ["Hutcheon,80", "Djalali,82", "Lee,88"], "range": ["square", "square", "circle"]},
          "legend": {
            "orient": "none", "legendX": 670, "legendY": 69, "title": null,
            "labelFont": "Liberation Serif", "labelFontSize": 24, "labelColor": "black",
            "symbolSize": 110, "symbolStrokeWidth": 1,
            "rowPadding": 6, "labelOffset": 16, "padding": 0
          }
        }
      }
    },
    {
      "data": {"name": "curves"},
      "mark": {"type": "line", "color": "black", "strokeWidth": 4, "interpolate": "monotone"},
      "encoding": {
        "detail": {"field": "c", "type": "nominal"},
        "y": {
          "field": "v", "type": "quantitative",
          "scale": {"type": "log", "domain": [1e-6, 1e14], "nice": false},
          "axis": {
            "orient": "left",
            "title": null,
            "values": [2e-6,3e-6,4e-6,5e-6,6e-6,7e-6,8e-6,9e-6,2e-5,3e-5,4e-5,5e-5,6e-5,7e-5,8e-5,9e-5,2e-4,3e-4,4e-4,5e-4,6e-4,7e-4,8e-4,9e-4,2e-3,3e-3,4e-3,5e-3,6e-3,7e-3,8e-3,9e-3,2e-2,3e-2,4e-2,5e-2,6e-2,7e-2,8e-2,9e-2,2e-1,3e-1,4e-1,5e-1,6e-1,7e-1,8e-1,9e-1,2,3,4,5,6,7,8,9,2e1,3e1,4e1,5e1,6e1,7e1,8e1,9e1,2e2,3e2,4e2,5e2,6e2,7e2,8e2,9e2,2e3,3e3,4e3,5e3,6e3,7e3,8e3,9e3,2e4,3e4,4e4,5e4,6e4,7e4,8e4,9e4,2e5,3e5,4e5,5e5,6e5,7e5,8e5,9e5,2e6,3e6,4e6,5e6,6e6,7e6,8e6,9e6,2e7,3e7,4e7,5e7,6e7,7e7,8e7,9e7,2e8,3e8,4e8,5e8,6e8,7e8,8e8,9e8,2e9,3e9,4e9,5e9,6e9,7e9,8e9,9e9,2e10,3e10,4e10,5e10,6e10,7e10,8e10,9e10,2e11,3e11,4e11,5e11,6e11,7e11,8e11,9e11,2e12,3e12,4e12,5e12,6e12,7e12,8e12,9e12,2e13,3e13,4e13,5e13,6e13,7e13,8e13,9e13],
            "labels": false,
            "grid": false,
            "domainColor": "black", "domainWidth": 3,
            "tickColor": "black", "tickSize": 6, "tickWidth": 1.5
          }
        }
      }
    },
    {
      "data": {"name": "title"},
      "mark": {"type": "text", "font": "Liberation Serif", "fontSize": 35, "align": "left", "baseline": "alphabetic", "color": "black"},
      "encoding": {"text": {"field": "t", "type": "nominal"}}
    },
    {
      "data": {"name": "labels"},
      "mark": {"type": "text", "font": "Liberation Serif", "fontSize": 29, "align": "left", "baseline": "alphabetic", "color": "black"},
      "encoding": {"text": {"field": "t", "type": "nominal"}}
    }
  ]
}
